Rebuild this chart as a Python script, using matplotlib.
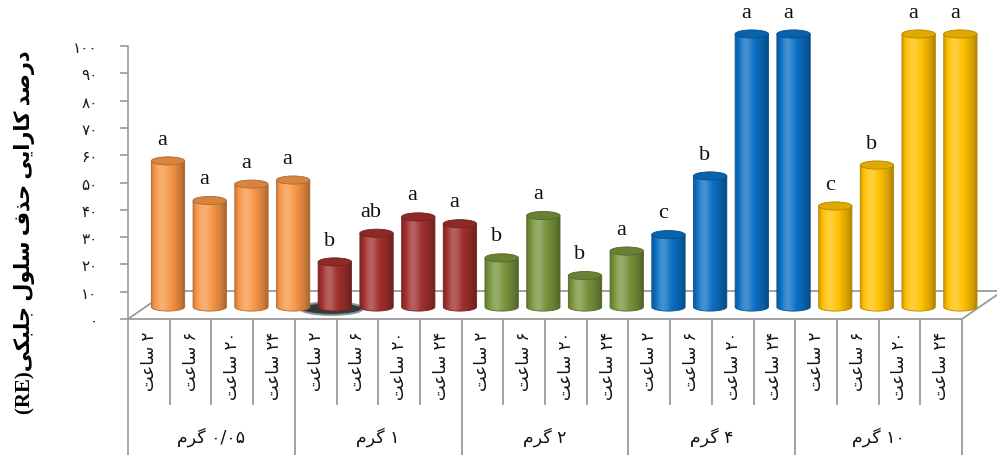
import numpy as np
import matplotlib
matplotlib.use("Agg")
import matplotlib.pyplot as plt
from matplotlib.patches import Ellipse, PathPatch
from matplotlib.path import Path
from matplotlib.colors import to_rgb

# ---- data ----
groups = ["0/05", "1", "2", "4", "10"]          # گرم
hours = ["2", "6", "20", "24"]                  # ساعت
values_005 = [53.5, 39.0, 45.0, 46.5]
values_1 = [16.5, 27.0, 33.0, 30.5]
values_2 = [18.0, 33.5, 11.5, 20.5]
values_4 = [26.5, 48.0, 100.0, 100.0]
values_10 = [37.0, 52.0, 100.0, 100.0]
values = [values_005, values_1, values_2, values_4, values_10]
letters = [["a", "a", "a", "a"],
           ["b", "ab", "a", "a"],
           ["b", "a", "b", "a"],
           ["c", "b", "a", "a"],
           ["c", "b", "a", "a"]]
group_colors = ["#F79646", "#A0302D", "#77933C", "#0B6FC4", "#FFC000"]
yticks = [0, 10, 20, 30, 40, 50, 60, 70, 80, 90, 100]

# ---- persian text helpers (matplotlib does no shaping) ----
FA_DIGITS = str.maketrans("0123456789", "۰۱۲۳۴۵۶۷۸۹")
FORMS = {  # isolated, final, initial, medial
    "ا": ("\uFE8D", "\uFE8E", None, None),
    "ب": ("\uFE8F", "\uFE90", "\uFE91", "\uFE92"),
    "ت": ("\uFE95", "\uFE96", "\uFE97", "\uFE98"),
    "ج": ("\uFE9D", "\uFE9E", "\uFE9F", "\uFEA0"),
    "ح": ("\uFEA1", "\uFEA2", "\uFEA3", "\uFEA4"),
    "د": ("\uFEA9", "\uFEAA", None, None),
    "ذ": ("\uFEAB", "\uFEAC", None, None),
    "ر": ("\uFEAD", "\uFEAE", None, None),
    "س": ("\uFEB1", "\uFEB2", "\uFEB3", "\uFEB4"),
    "ص": ("\uFEB9", "\uFEBA", "\uFEBB", "\uFEBC"),
    "ع": ("\uFEC9", "\uFECA", "\uFECB", "\uFECC"),
    "ف": ("\uFED1", "\uFED2", "\uFED3", "\uFED4"),
    "ل": ("\uFEDD", "\uFEDE", "\uFEDF", "\uFEE0"),
    "م": ("\uFEE1", "\uFEE2", "\uFEE3", "\uFEE4"),
    "و": ("\uFEED", "\uFEEE", None, None),
    "ک": ("\uFB8E", "\uFB8F", "\uFB90", "\uFB91"),
    "گ": ("\uFB92", "\uFB93", "\uFB94", "\uFB95"),
    "ی": ("\uFBFC", "\uFBFD", "\uFBFE", "\uFBFF"),
}


def fa_word(word):
    # shaped glyphs, in visual (left to right) order
    out = []
    for i, ch in enumerate(word):
        prev = word[i - 1] if i > 0 else ""
        nxt = word[i + 1] if i < len(word) - 1 else ""
        iso, fin, ini, med = FORMS[ch]
        jp = prev in FORMS and FORMS[prev][2] is not None
        jn = nxt in FORMS and ini is not None
        if jp and jn:
            g = med
        elif jp:
            g = fin
        elif jn:
            g = ini
        else:
            g = iso
        out.append(g)
    return "".join(out[::-1])


def fa_phrase(text):
    return " ".join(fa_word(w) for w in text.split()[::-1])


# ---- geometry ----
W, H = 997, 456
PX_SLOT, PX_UNIT = 41.7, 2.73
X0, Y0 = 128, 320                  # front-left corner of floor (px)
DX, DY = 0.98, 10.3                # floor depth (slots, value units)
BDX, BDY = 0.46, 4.4               # bar position inside the depth
BAR_W = 0.80
CAP_H = 3.0
GRAY = "#9A9A9A"

fig = plt.figure(figsize=(W / 100, H / 100), dpi=100)
ax = fig.add_axes([X0 / W, 0, 1 - X0 / W, 1])
ax.set_xlim(0, (W - X0) / PX_SLOT)
ax.set_ylim(-(H - Y0) / PX_UNIT, Y0 / PX_UNIT)
n_groups, n_sub = len(groups), len(hours)
n = n_groups * n_sub

for s in ["top", "right", "bottom"]:
    ax.spines[s].set_visible(False)
ax.spines["left"].set_color(GRAY)
ax.spines["left"].set_linewidth(1.2)
ax.spines["left"].set_bounds(-(H - Y0) / PX_UNIT, 100)
ax.set_xticks([])
ax.set_yticks(yticks)
ax.set_yticklabels([str(v).translate(FA_DIGITS) for v in yticks],
                   fontsize=11, family="DejaVu Sans", color="#1a1a1a")
ax.tick_params(axis="y", direction="out", length=6, width=1.2, color=GRAY, pad=16)

# floor
ax.plot([0, n], [0, 0], color=GRAY, lw=1.3, zorder=1, clip_on=False)
ax.plot([DX, n + DX], [DY, DY], color=GRAY, lw=1.3, zorder=1, clip_on=False)
ax.plot([0, DX], [0, DY], color=GRAY, lw=1.3, zorder=1, clip_on=False)
ax.plot([n, n + DX], [0, DY], color=GRAY, lw=1.3, zorder=1, clip_on=False)

# category table
ybot = -(H - Y0) / PX_UNIT
ysub = -85 / PX_UNIT
for k in range(1, n + 1):
    y_end = ybot if k % n_sub == 0 else ysub
    ax.plot([k, k], [0, y_end], color=GRAY, lw=1.3, zorder=1, clip_on=False)


def shade(rgb, a):
    rgb = np.array(rgb)
    if a >= 0:
        return rgb + (1 - rgb) * a
    return rgb * (1 + a)


t = np.linspace(0, 1, 60)
profile = 0.25 * np.exp(-((t - 0.32) / 0.2) ** 2) - 0.35 * t ** 4 - 0.2 * (1 - t) ** 8

for g in range(n_groups):
    base = to_rgb(group_colors[g])
    grad = np.array([[shade(base, a) for a in profile]])
    for j in range(n_sub):
        i = g * n_sub + j
        v = values[g][j]
        xc = i + 0.5 + BDX
        yb = BDY
        yt = BDY + v
        hw = BAR_W / 2
        if g == 1 and j == 0:
            ax.add_patch(Ellipse((xc - 0.08, yb - 0.6), 1.5, 4.6, facecolor="#1E2326",
                                 edgecolor="#8a9094", lw=1.5, alpha=0.9, zorder=2))
        arc = np.linspace(np.pi, 2 * np.pi, 40)
        pts = [(xc - hw, yt), (xc - hw, yb)]
        pts += list(zip(xc + hw * np.cos(arc), yb + CAP_H / 2 * np.sin(arc)))
        pts += [(xc + hw, yt), (xc - hw, yt)]
        body = PathPatch(Path(pts, closed=True), facecolor="none",
                         edgecolor=shade(base, -0.3), lw=0.6, zorder=4)
        ax.add_patch(body)
        im = ax.imshow(grad, extent=(xc - hw, xc + hw, yb - CAP_H, yt),
                       aspect="auto", interpolation="bilinear", zorder=3)
        im.set_clip_path(body)
        ax.add_patch(Ellipse((xc, yt), BAR_W, CAP_H, facecolor=shade(base, -0.12),
                             edgecolor=shade(base, -0.3), lw=0.6, zorder=5))
        ax.annotate(letters[g][j], (xc, yt + CAP_H / 2), xytext=(-4, 6),
                    textcoords="offset points", ha="center", va="bottom",
                    fontsize=16, family="Liberation Serif", color="#111111",
                    zorder=6, annotation_clip=False)
        ax.text(i + 0.5, -4.2, fa_word("ساعت") + " " + hours[j].translate(FA_DIGITS),
                rotation=90, ha="center", va="top", fontsize=12,
                family="DejaVu Sans", color="#111111")
    ax.text(g * n_sub + n_sub / 2, -42.9,
            fa_word("گرم") + " " + groups[g].translate(FA_DIGITS),
            ha="center", va="center", fontsize=12.5, family="DejaVu Sans", color="#111111")

ax.set_xlim(0, (W - X0) / PX_SLOT)
ax.set_ylim(-(H - Y0) / PX_UNIT, Y0 / PX_UNIT)

ylabel = "(RE)" + fa_phrase("درصد کارایی حذف سلول جلبکی")
fig.text(25 / W, 1 - 232 / H, ylabel, rotation=90, ha="center", va="center",
         fontsize=15, fontweight="bold", family=["Liberation Serif", "DejaVu Sans"])

fig.savefig("out.png", dpi=100)
